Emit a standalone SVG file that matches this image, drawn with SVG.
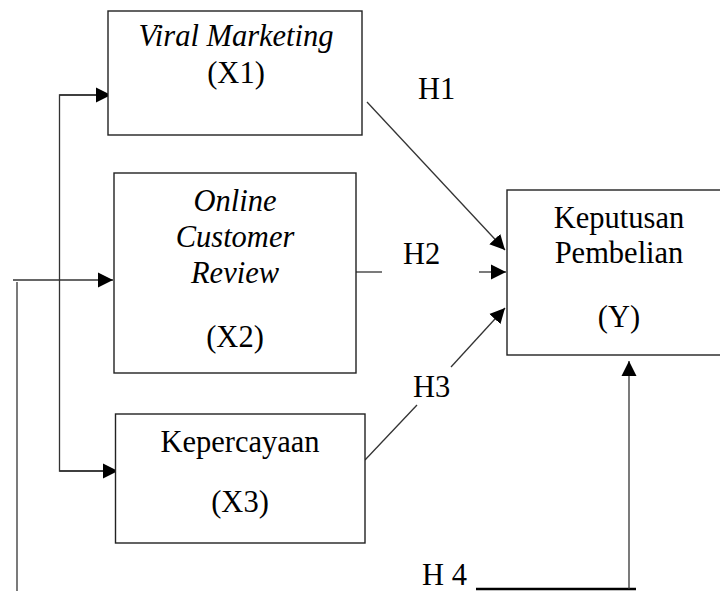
<svg xmlns="http://www.w3.org/2000/svg" width="720" height="591" viewBox="0 0 720 591">
<defs>
<marker id="ah" markerUnits="userSpaceOnUse" markerWidth="16" markerHeight="16" viewBox="0 0 16 16" refX="15" refY="8" orient="auto">
<path d="M0,0.5 L15,8 L0,15.5 Z" fill="#000"/>
</marker>
</defs>
<style>
.box{fill:#fff;stroke:#222;stroke-width:1.4}
.t{font-family:"Liberation Serif","Times New Roman",serif;font-size:30.5px;fill:#000;text-anchor:middle}
.i{font-style:italic}
.c{fill:none;stroke:#333;stroke-width:1.3}
.a{marker-end:url(#ah)}
.lbl{font-family:"Liberation Serif","Times New Roman",serif;font-size:30.5px;fill:#000}
</style>
<rect width="720" height="591" fill="#fff"/>
<g id="connectors">
<line class="c" x1="17" y1="282" x2="17" y2="591"/>
<line class="c a" x1="13" y1="280" x2="113" y2="280"/>
<polyline class="c" points="110,95 59.5,95 59.5,471 118,471"/>
<line class="c a" x1="59.5" y1="95" x2="111" y2="95"/>
<line class="c a" x1="59.5" y1="471" x2="118" y2="471"/>
<line class="c a" x1="367" y1="102" x2="505" y2="250"/>
<line class="c" x1="356" y1="272" x2="382" y2="272"/>
<line class="c a" x1="479" y1="272" x2="506" y2="272"/>
<line class="c" x1="365" y1="460" x2="417" y2="405"/>
<line class="c a" x1="451" y1="367" x2="505" y2="308"/>
<line x1="476" y1="589" x2="636" y2="589" stroke="#000" stroke-width="2.6"/>
<line class="c a" x1="629" y1="589" x2="629" y2="361"/>
<text class="lbl" x="418" y="99">H1</text>
<text class="lbl" x="403" y="264">H2</text>
<text class="lbl" x="413" y="397">H3</text>
<text class="lbl" x="422" y="585">H 4</text>
</g>
<g id="x1">
<rect class="box" x="108" y="11" width="254" height="124"/>
<text class="t i" x="236" y="46">Viral Marketing</text>
<text class="t" x="236" y="83">(X1)</text>
</g>
<g id="x2">
<rect class="box" x="114" y="173" width="242" height="200"/>
<text class="t i" x="235" y="211">Online</text>
<text class="t i" x="235" y="247">Customer</text>
<text class="t i" x="235" y="283">Review</text>
<text class="t" x="235" y="347">(X2)</text>
</g>
<g id="x3">
<rect class="box" x="115.5" y="414" width="249.5" height="129"/>
<text class="t" x="240" y="452">Kepercayaan</text>
<text class="t" x="240" y="512">(X3)</text>
</g>
<g id="y">
<rect class="box" x="507" y="190" width="220" height="165"/>
<text class="t" x="619" y="228">Keputusan</text>
<text class="t" x="619" y="263">Pembelian</text>
<text class="t" x="619" y="327">(Y)</text>
</g>
</svg>
